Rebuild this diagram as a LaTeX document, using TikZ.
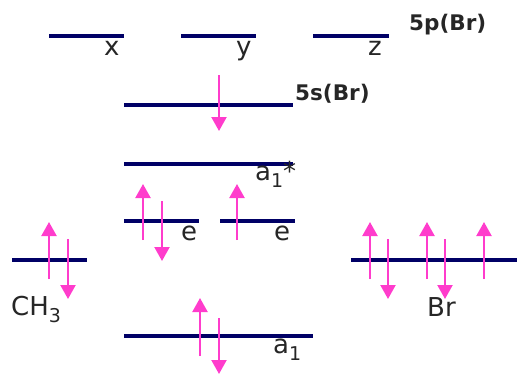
\documentclass[tikz,border=0pt]{standalone}
\usepackage{fontspec}
\setmainfont{DejaVu Sans}
\usetikzlibrary{arrows.meta}
\definecolor{lvl}{RGB}{0,0,102}
\definecolor{spin}{RGB}{255,60,204}
\newcommand{\lbl}{\fontsize{26}{26}\selectfont}
\newcommand{\blbl}{\fontsize{21.5}{21.5}\selectfont\bfseries}
\newcommand{\sbs}[1]{\raisebox{-0.3em}{\fontsize{19}{19}\selectfont #1}}
\begin{document}
\begin{tikzpicture}[x=1pt,y=-1pt,
  level/.style={draw=lvl,line width=3.3pt},
  elec/.style={draw=spin,line width=2.2pt,-{Triangle[width=15pt,length=14pt]}},
  txt/.style={inner sep=0pt,anchor=base west,text=black!85}]
\useasboundingbox (0,0) rectangle (517,373);
% levels
\draw[level] (49,36) -- (124,36);
\draw[level] (181,36) -- (256,36);
\draw[level] (313,36) -- (389,36);
\draw[level] (124,105) -- (293,105);
\draw[level] (124,164) -- (293,164);
\draw[level] (124,221) -- (199,221);
\draw[level] (220,221) -- (295,221);
\draw[level] (12,260) -- (87,260);
\draw[level] (351,260) -- (517,260);
\draw[level] (124,336) -- (313,336);
% electrons
\draw[elec] (219,75) -- (219,131);
\draw[elec] (143,240) -- (143,184);
\draw[elec] (162,201) -- (162,261);
\draw[elec] (237,240) -- (237,184);
\draw[elec] (49,279) -- (49,222);
\draw[elec] (68,239) -- (68,299);
\draw[elec] (370,279) -- (370,222);
\draw[elec] (388,239) -- (388,299);
\draw[elec] (427,279) -- (427,222);
\draw[elec] (445,239) -- (445,299);
\draw[elec] (484,279) -- (484,222);
\draw[elec] (200,356) -- (200,298);
\draw[elec] (219,318) -- (219,374);
% labels
\node[txt] (l5p) at (409,30) {\blbl 5p(Br)};
\node[txt] (l5s) at (295,100) {\blbl 5s(Br)};
\node[txt] (lx) at (104,55) {\lbl x};
\node[txt] (ly) at (236,55) {\lbl y};
\node[txt] (lz) at (368,55) {\lbl z};
\node[txt] (la1s) at (255,180) {\lbl a\sbs{1}*};
\node[txt] (le1) at (181,240) {\lbl e};
\node[txt] (le2) at (274,240) {\lbl e};
\node[txt] (lch) at (11,315) {\lbl CH\sbs{3}};
\node[txt] (lbr) at (427,316) {\lbl Br};
\node[txt] (la1) at (273,353) {\lbl a\sbs{1}};
\end{tikzpicture}
\end{document}
